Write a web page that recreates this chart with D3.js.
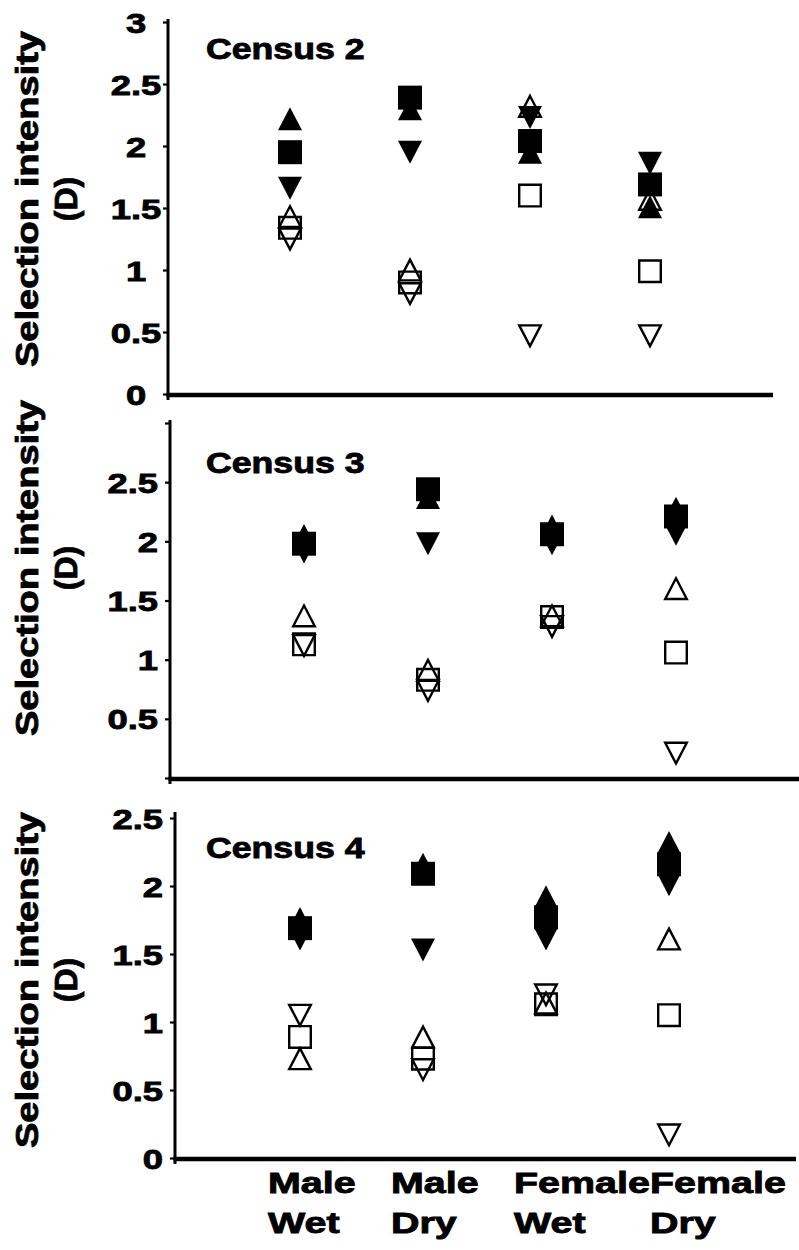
<!DOCTYPE html>
<html><head><meta charset="utf-8">
<script src="https://cdn.jsdelivr.net/npm/d3@7"></script>
<style>
body{margin:0;background:#fff}
text{font-family:"Liberation Sans",Arial,Helvetica,sans-serif;font-weight:bold;fill:#000;stroke:#000;stroke-width:0.85px}
</style>
</head><body>
<svg id="chart" width="799" height="1250"></svg>
<script>
// ---------- DATA ----------
const categories = ["Male Wet", "Male Dry", "Female Wet", "Female Dry"];
const seriesKeys = ["filledUp", "filledSquare", "filledDown", "openUp", "openSquare", "openDown"];
const censusTitles = ["Census 2", "Census 3", "Census 4"];

// Census 2
const c2FilledUp     = [2.22, 2.30, 1.95, 1.51];
const c2FilledSquare = [1.95, 2.39, 2.04, 1.69];
const c2FilledDown   = [1.66, 1.95, 2.23, 1.86];
const c2OpenUp       = [1.43, 1.00, 2.32, 1.57];
const c2OpenSquare   = [1.34, 0.90, 1.60, 0.99];
const c2OpenDown     = [1.25, 0.81, 0.47, 0.47];
// Census 3
const c3FilledUp     = [2.05, 2.37, 2.13, 2.28];
const c3FilledSquare = [1.98, 2.44, 2.06, 2.21];
const c3FilledDown   = [1.91, 1.98, 1.98, 2.06];
const c3OpenUp       = [1.37, 0.91, 1.37, 1.60];
const c3OpenSquare   = [1.13, 0.83, 1.36, 1.06];
const c3OpenDown     = [1.12, 0.74, 1.28, 0.21];
// Census 4
const c4FilledUp     = [1.76, 2.16, 1.92, 2.32];
const c4FilledSquare = [1.69, 2.09, 1.77, 2.16];
const c4FilledDown   = [1.61, 1.53, 1.61, 2.01];
const c4OpenUp       = [0.73, 0.89, 1.14, 1.61];
const c4OpenSquare   = [0.89, 0.73, 1.13, 1.05];
const c4OpenDown     = [1.05, 0.65, 1.20, 0.17];

const censusData = [
  [c2FilledUp, c2FilledSquare, c2FilledDown, c2OpenUp, c2OpenSquare, c2OpenDown],
  [c3FilledUp, c3FilledSquare, c3FilledDown, c3OpenUp, c3OpenSquare, c3OpenDown],
  [c4FilledUp, c4FilledSquare, c4FilledDown, c4OpenUp, c4OpenSquare, c4OpenDown]
];

const c2TickValues = [0, 0.5, 1, 1.5, 2, 2.5, 3];
const c2TickLabels = [0, 0.5, 1, 1.5, 2, 2.5, 3];
const c3TickValues = [0, 0.5, 1, 1.5, 2, 2.5, 3];
const c3TickLabels = [0.5, 1, 1.5, 2, 2.5];
const c4TickValues = [0, 0.5, 1, 1.5, 2, 2.5];
const c4TickLabels = [0, 0.5, 1, 1.5, 2, 2.5];
const yDomainMax = [3, 3, 2.5];

// ---------- LAYOUT ----------
const layout = [
  {axisX:168, xr:[170,770], yr:[394,22], axisTop:19, xEnd:773, ticks:c2TickValues, labels:c2TickLabels, align:"middle", labelDx:-32, titleY:59, yTitleCY:199},
  {axisX:170, xr:[180,800], yr:[778,423], axisTop:420, xEnd:799, ticks:c3TickValues, labels:c3TickLabels, align:"end", labelDx:-12, titleY:473, yTitleCY:568},
  {axisX:175, xr:[177,792], yr:[1158,818], axisTop:812, xEnd:796, ticks:c4TickValues, labels:c4TickLabels, align:"end", labelDx:-12, titleY:858, yTitleCY:980}
];

// ---------- SHAPES ----------
const upTri = {draw(ctx, s){ const h=s*0.96; ctx.moveTo(0,-h/2); ctx.lineTo(s/2,h/2); ctx.lineTo(-s/2,h/2); ctx.closePath(); }};
const downTri = {draw(ctx, s){ const h=s*0.96; ctx.moveTo(0,h/2); ctx.lineTo(s/2,-h/2); ctx.lineTo(-s/2,-h/2); ctx.closePath(); }};
const sq = {draw(ctx, s){ ctx.rect(-s/2,-s/2,s,s); }};
const seriesStyle = {
  filledUp:{type:upTri, filled:true}, filledSquare:{type:sq, filled:true}, filledDown:{type:downTri, filled:true},
  openUp:{type:upTri, filled:false}, openSquare:{type:sq, filled:false}, openDown:{type:downTri, filled:false}
};

const svg = d3.select("#chart");
const HSCALE = 1.3;

layout.forEach((L, pi) => {
  const g = svg.append("g");
  const x = d3.scaleLinear().domain([0, 5]).range(L.xr);
  const y = d3.scaleLinear().domain([0, yDomainMax[pi]]).range(L.yr);

  // y axis
  const yAxis = d3.axisLeft(y).tickValues(L.ticks).tickSize(5).tickSizeOuter(0)
    .tickFormat(d => L.labels.includes(d) ? String(d) : "");
  const ag = g.append("g").attr("transform", `translate(${L.axisX},0)`).call(yAxis);
  ag.select(".domain").remove();
  ag.attr("font-family", null).attr("font-size", null);
  ag.selectAll(".tick line").attr("stroke", "#000").attr("stroke-width", 2.2);
  ag.selectAll(".tick text")
    .attr("x", null).attr("dy", "0.36em")
    .attr("text-anchor", L.align)
    .attr("transform", `translate(${L.labelDx},0) scale(${HSCALE},1)`)
    .attr("fill", "#000")
    .style("font-size", "28px");

  // axis lines
  g.append("line").attr("x1", L.axisX).attr("x2", L.axisX)
    .attr("y1", L.axisTop).attr("y2", y(0) + 6)
    .attr("stroke", "#000").attr("stroke-width", 3);
  g.append("line").attr("x1", L.axisX - 1.5).attr("x2", L.xEnd)
    .attr("y1", y(0) + 1).attr("y2", y(0) + 1)
    .attr("stroke", "#000").attr("stroke-width", 4.5);

  // title
  g.append("text").attr("transform", `translate(206,${L.titleY}) scale(1.23,1)`)
    .style("font-size", "29px").text(censusTitles[pi]);

  // y title
  g.append("text").attr("transform", `translate(38,${L.yTitleCY}) rotate(-90)`)
    .attr("text-anchor", "middle").style("font-size", "32px")
    .attr("textLength", 336).attr("lengthAdjust", "spacingAndGlyphs")
    .text("Selection intensity");
  g.append("text").attr("transform", `translate(77,${L.yTitleCY}) rotate(-90)`)
    .attr("text-anchor", "middle").style("font-size", "32px")
    .text("(D)");

  // markers
  seriesKeys.forEach((key, si) => {
    const st = seriesStyle[key];
    const vals = censusData[pi][si];
    const sym = d3.symbol().type(st.type).size(st.filled ? 24 : 21.6);
    g.append("g").attr("class", key).selectAll("path").data(vals).join("path")
      .attr("transform", (d, i) => `translate(${x(i + 1)},${y(d)})`)
      .attr("d", sym)
      .attr("fill", st.filled ? "#000" : "none")
      .attr("stroke", st.filled ? "none" : "#000")
      .attr("stroke-width", st.filled ? 0 : 2.4);
  });

  // category labels on bottom panel (left-aligned lines, never overlapping the previous label)
  if (pi === 2) {
    let prevRight = -Infinity;
    const CS = 1.36;
    categories.forEach((c, i) => {
      const words = c.split(" ");
      const t = g.append("text").style("font-size", "29px");
      words.forEach((w, k) => {
        t.append("tspan").attr("x", 0).attr("y", y(0) + 35 + k * 40).text(w);
      });
      const w = t.node().getBBox().width * CS;
      const left = Math.max(x(i + 1) - 32, prevRight);
      t.attr("transform", `translate(${left},0) scale(${CS},1)`);
      prevRight = left + w;
    });
  }
});
</script>
</body></html>
